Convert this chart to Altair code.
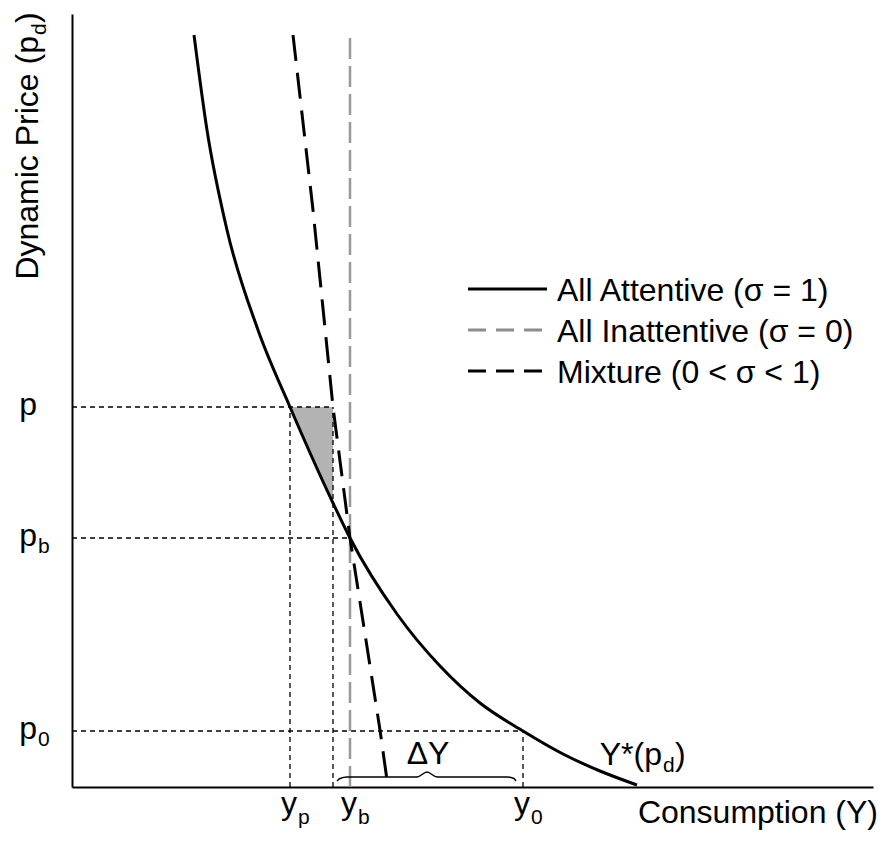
import altair as alt
import pandas as pd

# ---------------- values (x: consumption, y: price) ----
X_MAX, Y_MAX = 801, 773
Y_P, Y_M, Y_B, Y_0 = 218, 261, 278, 451      # y_p, mixture demand at p, y_b, y_0
P_HI, P_M, P_B, P_0 = 380, 284, 249, 56      # p, curve price at Y_M, p_b, p_0

attentive_x = [122, 135, 155, 186, Y_P, Y_M, Y_B, 325, 368, 408, Y_0, 491, 528, 565]
attentive_y = [752, 657, 557, 457, P_HI, P_M, P_B, 173, 121, 84, P_0, 33, 16, 2]

mixture_x = [221, 241, Y_M, Y_B, 308, 316]
mixture_y = [752, 577, P_HI, P_B, 57, 0]

inattentive_x = [Y_B, Y_B]
inattentive_y = [0, 752]

brace_x = [265, 268, 275, 345, 355, 365, 435, 442, 444]
brace_y = [6, 8.5, 10, 10, 15, 10, 10, 8.5, 6]

series_names = ["All Attentive (σ = 1)", "All Inattentive (σ = 0)", "Mixture (0 < σ < 1)"]

price_main = ["p", "p", "p"]
price_subs = ["", "b", "0"]
price_vals = [P_HI, P_B, P_0]

cons_main = ["y", "y", "y"]
cons_subs = ["p", "b", "0"]
cons_vals = [Y_P, Y_B, Y_0]

# ---------------- helpers ----------------
FONT = "Liberation Sans"
FS = 32
SFS = 21
xs = alt.Scale(domain=[0, X_MAX], nice=False, zero=False)
ys = alt.Scale(domain=[0, Y_MAX], nice=False, zero=False)
ax = alt.Axis(title=None, labels=False, ticks=False, grid=False, domain=True,
              domainColor="black", domainWidth=2)


def X(f):
    return alt.X(f, type="quantitative", scale=xs, axis=ax)


def Y(f):
    return alt.Y(f, type="quantitative", scale=ys, axis=ax)


# ---------------- tables ----------------
att = pd.DataFrame({"x": attentive_x, "y": attentive_y, "i": range(len(attentive_x))})
mix = pd.DataFrame({"x": mixture_x, "y": mixture_y, "i": range(len(mixture_x))})
ina = pd.DataFrame({"x": inattentive_x, "y": inattentive_y, "i": [0, 1]})
brace = pd.DataFrame({"x": brace_x, "y": brace_y, "i": range(len(brace_x))})

shade = pd.DataFrame({"y": [P_HI, P_M], "x": [Y_P, Y_M], "x2": [Y_M, Y_M]})

guides = pd.DataFrame({
    "x": [0, Y_P, 0, Y_M, 0, Y_0],
    "x2": [Y_M, Y_P, Y_B, Y_M, Y_0, Y_0],
    "y": [P_HI, 0, P_B, 0, P_0, 0],
    "y2": [P_HI, P_HI, P_B, P_HI, P_0, P_0],
})

LBL_X = -35
price_df = pd.DataFrame({"lx": [LBL_X] * 3, "y": price_vals, "main": price_main, "sub": price_subs})
cons_df = pd.DataFrame({"x": cons_vals, "ly": [0] * 3, "main": cons_main, "sub": cons_subs})

# legend table
LEG_X0, LEG_X1, LEG_TX = 396, 475, 485
leg_rows = [498, 457, 416]
leg_end = [LEG_X1, LEG_X1 - 4, LEG_X1 - 4]
leg = pd.DataFrame({"series": series_names, "y": leg_rows,
                    "x": [LEG_X0] * 3, "x2": leg_end, "tx": [LEG_TX] * 3})

# ---------------- layers ----------------
shade_l = alt.Chart(shade).mark_area(orient="horizontal", color="#b3b3b3", opacity=1).encode(
    y=Y("y"), x=X("x"), x2=alt.X2("x2"))

guide_l = alt.Chart(guides).mark_rule(color="black", strokeWidth=1.3, strokeDash=[5, 4]).encode(
    x=X("x"), x2=alt.X2("x2"), y=Y("y"), y2=alt.Y2("y2"))

ina_l = alt.Chart(ina).mark_line(color="#999999", strokeWidth=2.5, strokeDash=[21, 7]).encode(
    x=X("x"), y=Y("y"), order="i:Q")

mix_l = alt.Chart(mix).mark_line(color="black", strokeWidth=3, strokeDash=[26, 12]).encode(
    x=X("x"), y=Y("y"), order="i:Q")

att_l = alt.Chart(att).mark_line(color="black", strokeWidth=3, interpolate="monotone").encode(
    x=X("x"), y=Y("y"), order="i:Q")

brace_l = alt.Chart(brace).mark_line(color="black", strokeWidth=1.5, interpolate="monotone").encode(
    x=X("x"), y=Y("y"), order="i:Q")

leg_line = alt.Chart(leg).mark_rule(strokeWidth=3).encode(
    x=X("x"), x2=alt.X2("x2"), y=Y("y"),
    color=alt.Color("series:N", scale=alt.Scale(domain=series_names,
                                                  range=["black", "#8c8c8c", "black"]), legend=None),
    strokeDash=alt.StrokeDash("series:N", scale=alt.Scale(domain=series_names,
                                                           range=[[1, 0], [18, 10], [18, 10]]), legend=None))

leg_text = alt.Chart(leg).mark_text(align="left", baseline="alphabetic", dy=12, font=FONT,
                                    fontSize=FS, color="black").encode(
    x=X("tx"), y=Y("y"), text="series:N")

price_main_l = alt.Chart(price_df).mark_text(align="right", baseline="alphabetic", dy=8,
                                             font=FONT, fontSize=FS, color="black").encode(
    x=X("lx"), y=Y("y"), text="main:N")
price_sub_l = alt.Chart(price_df).mark_text(align="left", baseline="alphabetic", dx=1, dy=15,
                                            font=FONT, fontSize=SFS, color="black").encode(
    x=X("lx"), y=Y("y"), text="sub:N")

cons_main_l = alt.Chart(cons_df).mark_text(align="right", baseline="alphabetic", dx=7, dy=27,
                                           font=FONT, fontSize=FS, color="black").encode(
    x=X("x"), y=Y("ly"), text="main:N")
cons_sub_l = alt.Chart(cons_df).mark_text(align="left", baseline="alphabetic", dx=8, dy=37,
                                          font=FONT, fontSize=SFS, color="black").encode(
    x=X("x"), y=Y("ly"), text="sub:N")

# free text annotations
ann = pd.DataFrame({
    "x": [-34, 806, 356, 590],
    "y": [751, 0, 23, 22],
    "t": ["Dynamic Price (p", "Consumption (Y)", "ΔY", "Y*(p"],
    "k": ["ytitle", "xtitle", "dy", "ystar"],
})


def ann_layer(key, **kw):
    base = dict(baseline="alphabetic", font=FONT, fontSize=FS, color="black")
    base.update(kw)
    return alt.Chart(ann).transform_filter(alt.datum.k == key).mark_text(**base).encode(
        x=X("x"), y=Y("y"), text="t:N")


def ann_const(key, txt, **kw):
    base = dict(baseline="alphabetic", font=FONT, fontSize=FS, color="black", text=txt)
    base.update(kw)
    return alt.Chart(ann).transform_filter(alt.datum.k == key).mark_text(**base).encode(
        x=X("x"), y=Y("y"))


ytitle = ann_layer("ytitle", align="right", angle=270)
ytitle_sub = ann_const("ytitle", "d", align="left", angle=270, dx=1, dy=8, fontSize=SFS)
ytitle_end = ann_const("ytitle", ")", align="left", angle=270, dx=13)

xtitle = ann_layer("xtitle", align="right", dy=36)
dlabel = ann_layer("dy", align="center")
ystar = ann_layer("ystar", align="right")
ystar_sub = ann_const("ystar", "d", align="left", dx=1, dy=7, fontSize=SFS)
ystar_end = ann_const("ystar", ")", align="left", dx=13)

chart = alt.layer(
    shade_l, guide_l, ina_l, mix_l, att_l, brace_l,
    leg_line, leg_text,
    price_main_l, price_sub_l, cons_main_l, cons_sub_l,
    ytitle, ytitle_sub, ytitle_end, xtitle, dlabel, ystar, ystar_sub, ystar_end,
).properties(
    width=X_MAX, height=Y_MAX,
    padding={"left": 64, "top": 6, "right": 4, "bottom": 47},
    autosize=alt.AutoSizeParams(type="none"),
).configure_view(stroke=None)

chart.save("out.html", embed_options={"renderer": "svg", "actions": False})
